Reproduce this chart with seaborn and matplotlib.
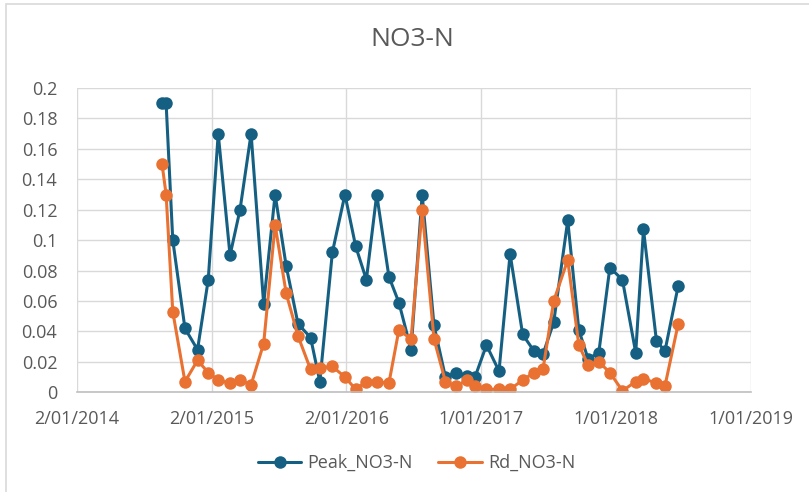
import matplotlib
matplotlib.use("Agg")
import matplotlib.pyplot as plt
from matplotlib.patches import Rectangle
import seaborn as sns
import pandas as pd

# ---- data ----
dates = ["2014-08-21", "2014-09-01", "2014-09-19", "2014-10-22", "2014-11-25", "2014-12-24",
         "2015-01-20", "2015-02-21", "2015-03-20", "2015-04-19", "2015-05-23", "2015-06-23",
         "2015-07-23", "2015-08-24", "2015-09-27", "2015-10-22", "2015-11-25", "2015-12-29",
         "2016-01-27", "2016-02-25", "2016-03-24", "2016-04-26", "2016-05-23", "2016-06-25",
         "2016-07-25", "2016-08-26", "2016-09-26", "2016-10-24", "2016-11-24", "2016-12-15",
         "2017-01-15", "2017-02-18", "2017-03-20", "2017-04-23", "2017-05-24", "2017-06-17",
         "2017-07-16", "2017-08-23", "2017-09-22", "2017-10-17", "2017-11-15", "2017-12-15",
         "2018-01-18", "2018-02-23", "2018-03-16", "2018-04-20", "2018-05-13", "2018-06-18"]
peak_no3n = [0.19, 0.19, 0.10, 0.042, 0.028, 0.074, 0.17, 0.09, 0.12, 0.17, 0.058, 0.13,
             0.083, 0.045, 0.036, 0.007, 0.092, 0.13, 0.096, 0.074, 0.13, 0.076, 0.059, 0.028,
             0.13, 0.044, 0.010, 0.013, 0.011, 0.010, 0.031, 0.014, 0.091, 0.038, 0.027, 0.025,
             0.046, 0.113, 0.041, 0.022, 0.026, 0.082, 0.074, 0.026, 0.107, 0.034, 0.027, 0.070]
rd_no3n = [0.15, 0.13, 0.053, 0.007, 0.021, 0.013, 0.008, 0.006, 0.008, 0.005, 0.032, 0.11,
           0.065, 0.037, 0.015, 0.016, 0.017, 0.010, 0.002, 0.007, 0.007, 0.006, 0.041, 0.035,
           0.12, 0.035, 0.007, 0.004, 0.008, 0.004, 0.002, 0.002, 0.002, 0.008, 0.013, 0.015,
           0.060, 0.087, 0.031, 0.018, 0.020, 0.013, 0.001, 0.007, 0.009, 0.006, 0.004, 0.045]
series_names = ["Peak_NO3-N", "Rd_NO3-N"]
title = "NO3-N"
x_tick_dates = ["2014-01-02", "2015-01-02", "2016-01-02", "2017-01-01", "2018-01-01", "2019-01-01"]
x_tick_labels = ["2/01/2014", "2/01/2015", "2/01/2016", "1/01/2017", "1/01/2018", "1/01/2019"]
y_ticks = [0, 0.02, 0.04, 0.06, 0.08, 0.1, 0.12, 0.14, 0.16, 0.18, 0.2]
y_tick_labels = ["0", "0.02", "0.04", "0.06", "0.08", "0.1", "0.12", "0.14", "0.16", "0.18", "0.2"]

df = pd.DataFrame({
    "date": pd.to_datetime(dates * 2),
    "value": peak_no3n + rd_no3n,
    "series": [series_names[0]] * len(dates) + [series_names[1]] * len(dates),
})

# ---- style ----
sns.set_theme(style="white")
plt.rcParams["font.family"] = ["Open Sans", "DejaVu Sans"]
text_color = "#595959"
grid_color = "#D9D9D9"
colors = {"Peak_NO3-N": "#156082", "Rd_NO3-N": "#E97132"}

fig = plt.figure(figsize=(8.09, 4.92), dpi=100)
ax = fig.add_axes([76.7 / 809, 1 - 392.3 / 492, (751 - 76.7) / 809, (392.3 - 88) / 492])

sns.lineplot(data=df, x="date", y="value", hue="series", palette=colors,
             marker="o", markersize=9, markeredgewidth=0, linewidth=2.2,
             ax=ax, legend=False)

ax.set_xlim(pd.Timestamp(x_tick_dates[0]), pd.Timestamp(x_tick_dates[-1]))
ax.set_ylim(0, 0.2)
ax.set_xticks(pd.to_datetime(x_tick_dates))
ax.set_xticklabels(x_tick_labels)
ax.set_yticks(y_ticks)
ax.set_yticklabels(y_tick_labels)
ax.set_xlabel("")
ax.set_ylabel("")

ax.grid(True, color=grid_color, linewidth=1.0)
ax.set_axisbelow(True)
for s in ["top", "right", "left"]:
    ax.spines[s].set_visible(False)
ax.spines["bottom"].set_color("#BFBFBF")
ax.spines["bottom"].set_linewidth(1.2)
ax.tick_params(axis="both", length=0, labelsize=13, labelcolor=text_color)
ax.tick_params(axis="y", pad=14)
ax.tick_params(axis="x", pad=13)
for lab in ax.get_yticklabels():
    lab.set_horizontalalignment("right")

fig.text(412 / 809, 1 - 40 / 492, title, ha="center", va="center",
         fontsize=19, color=text_color)

handles = ax.get_lines()[:2]
fig.legend(handles, series_names, loc="center", bbox_to_anchor=(416.5 / 809, 1 - 463 / 492),
           ncol=2, frameon=False, fontsize=13, labelcolor=text_color,
           handlelength=2.4, handletextpad=0.35, columnspacing=1.4)

fig.patches.append(Rectangle((6 / 809, -0.5), 2, 0.5 + 1 - 4 / 492, transform=fig.transFigure,
                             fill=False, edgecolor=grid_color, linewidth=1.2))

fig.savefig("out.png", dpi=100, facecolor="white")
